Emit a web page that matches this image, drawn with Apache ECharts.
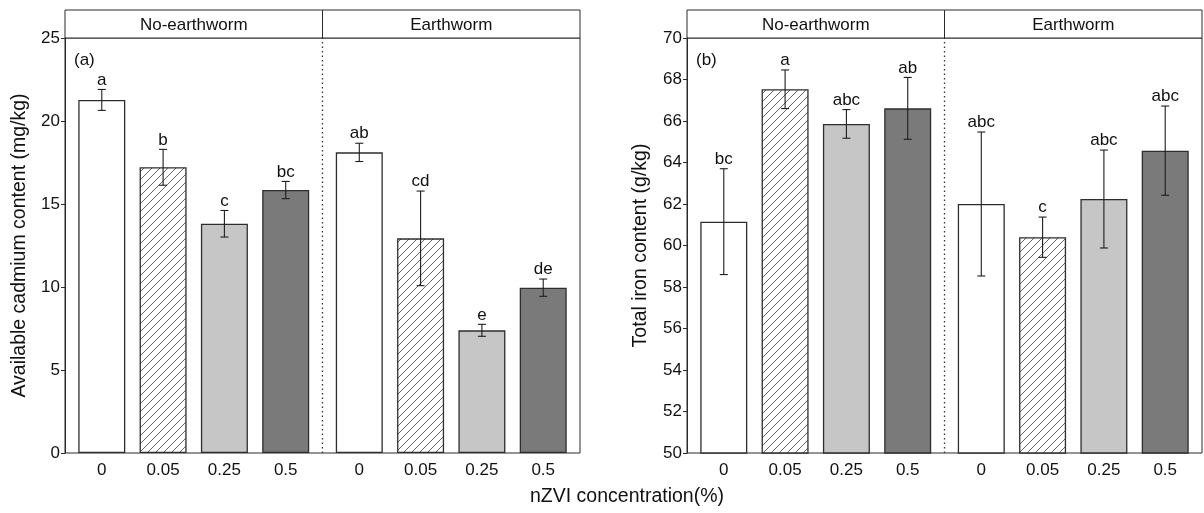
<!DOCTYPE html>
<html>
<head>
<meta charset="utf-8">
<script src="https://cdn.jsdelivr.net/npm/echarts@6/dist/echarts.min.js"></script>
<style>
  html, body { margin: 0; padding: 0; background: #fff; }
  #chart { width: 1204px; height: 513px; }
</style>
</head>
<body>
<div id="chart"></div>
<script>
// categories (two groups of four nZVI doses) and where they sit on the x scale
const concentrations = ["0", "0.05", "0.25", "0.5", "0", "0.05", "0.25", "0.5"];
const groups = ["No-earthworm", "Earthworm"];
const xPositions = [1, 2, 3, 4, 5.2, 6.2, 7.2, 8.2];
const groupDivider = 4.6;

// panel (a) available cadmium, mg/kg
const cadmiumMean = [21.27, 17.21, 13.81, 15.84, 18.11, 12.93, 7.39, 9.96];
const cadmiumErr = [0.63, 1.08, 0.8, 0.52, 0.55, 2.85, 0.36, 0.52];
const cadmiumLetters = ["a", "b", "c", "bc", "ab", "cd", "e", "de"];

// panel (b) total iron, g/kg
const ironMean = [61.15, 67.53, 65.86, 66.61, 62.0, 60.4, 62.24, 64.57];
const ironErr = [2.55, 0.93, 0.69, 1.49, 3.47, 0.97, 2.36, 2.15];
const ironLetters = ["bc", "a", "abc", "ab", "abc", "c", "abc", "abc"];

const FONT = "Arial, 'Liberation Sans', sans-serif";
const INK = "#1e1e1e";

const makeHatch = () => {
  const size = 8;
  const canvas = document.createElement("canvas");
  canvas.width = size;
  canvas.height = size;
  const ctx = canvas.getContext("2d");
  ctx.fillStyle = "#fff";
  ctx.fillRect(0, 0, size, size);
  ctx.strokeStyle = "#555";
  ctx.lineWidth = 0.9;
  ctx.beginPath();
  ctx.moveTo(-1, size + 1);
  ctx.lineTo(size + 1, -1);
  ctx.stroke();
  return { image: canvas, repeat: "repeat" };
};

const fills = ["#ffffff", makeHatch(), "#c6c6c6", "#7a7a7a"];

const panels = [
  { left: 65, right: 580, mean: cadmiumMean, err: cadmiumErr, letters: cadmiumLetters,
    min: 0, max: 25, interval: 5, name: "Available cadmium content (mg/kg)", tag: "(a)", gap: 35 },
  { left: 687, right: 1202, mean: ironMean, err: ironErr, letters: ironLetters,
    min: 50, max: 70, interval: 2, name: "Total iron content (g/kg)", tag: "(b)", gap: 36 }
];

const TOP = 38;
const STRIP_TOP = 10;
const BOTTOM = 453;

const labelFor = (v) => {
  const idx = xPositions.findIndex((p) => Math.abs(p - v) < 1e-6);
  return idx >= 0 ? concentrations[idx] : "";
};

const errorRenderer = (letters) => (params, api) => {
  const x = api.value(0);
  const lo = api.coord([x, api.value(1)]);
  const hi = api.coord([x, api.value(2)]);
  const cap = 4;
  const stroke = { stroke: INK, lineWidth: 1.1 };
  return {
    type: "group",
    children: [
      { type: "line", shape: { x1: lo[0], y1: lo[1], x2: hi[0], y2: hi[1] }, style: stroke },
      { type: "line", shape: { x1: hi[0] - cap, y1: hi[1], x2: hi[0] + cap, y2: hi[1] }, style: stroke },
      { type: "line", shape: { x1: lo[0] - cap, y1: lo[1], x2: lo[0] + cap, y2: lo[1] }, style: stroke },
      {
        type: "text",
        x: hi[0],
        y: hi[1] - 1,
        style: {
          text: letters[params.dataIndex],
          align: "center",
          verticalAlign: "bottom",
          fontSize: 17,
          fontFamily: FONT,
          fill: "#111"
        }
      }
    ]
  };
};

const grid = panels.map((p) => ({
  left: p.left,
  width: p.right - p.left,
  top: TOP,
  height: BOTTOM - TOP,
  show: true,
  borderColor: "#2a2a2a",
  borderWidth: 1,
  backgroundColor: "transparent"
}));

const xAxis = panels.map((p, i) => ({
  gridIndex: i,
  type: "value",
  min: 0.4,
  max: 8.8,
  axisLine: { show: false },
  axisTick: { show: false },
  splitLine: { show: false },
  axisLabel: {
    customValues: xPositions,
    formatter: labelFor,
    margin: 9,
    fontSize: 17,
    fontFamily: FONT,
    color: "#111"
  }
}));

const yAxis = panels.map((p, i) => ({
  gridIndex: i,
  type: "value",
  min: p.min,
  max: p.max,
  interval: p.interval,
  name: p.name,
  nameLocation: "middle",
  nameGap: p.gap,
  nameTextStyle: { fontSize: 19.5, fontFamily: FONT, color: "#111" },
  axisLine: { show: true, lineStyle: { color: "#2a2a2a" } },
  axisTick: { show: true, inside: false, length: 4, lineStyle: { color: "#2a2a2a" } },
  splitLine: { show: false },
  axisLabel: { margin: 5, fontSize: 17, fontFamily: FONT, color: "#111" }
}));

const series = [];
panels.forEach((p, i) => {
  series.push({
    type: "bar",
    xAxisIndex: i,
    yAxisIndex: i,
    barWidth: 47,
    data: p.mean.map((m, k) => ({
      value: [xPositions[k], m],
      itemStyle: { color: fills[k % 4], borderColor: "#2e2e2e", borderWidth: 1.3 }
    })),
    markLine: {
      silent: true,
      symbol: "none",
      label: { show: false },
      lineStyle: { color: "#333", type: [1.5, 3], width: 1.3 },
      data: [{ xAxis: groupDivider }]
    }
  });
  series.push({
    type: "custom",
    xAxisIndex: i,
    yAxisIndex: i,
    clip: false,
    z: 5,
    renderItem: errorRenderer(p.letters),
    data: p.mean.map((m, k) => [xPositions[k], m - p.err[k], m + p.err[k]])
  });
});

const graphic = [];
panels.forEach((p) => {
  const mid = p.left + ((groupDivider - 0.4) / 8.4) * (p.right - p.left);
  graphic.push({
    type: "rect",
    shape: { x: p.left, y: STRIP_TOP, width: p.right - p.left, height: TOP - STRIP_TOP },
    style: { fill: "#fff", stroke: "#2a2a2a", lineWidth: 1 }
  });
  graphic.push({
    type: "line",
    shape: { x1: mid, y1: STRIP_TOP, x2: mid, y2: TOP },
    style: { stroke: "#2a2a2a", lineWidth: 1 }
  });
  [[p.left, mid], [mid, p.right]].forEach(([a, b], g) => {
    graphic.push({
      type: "text",
      x: (a + b) / 2,
      y: (STRIP_TOP + TOP) / 2 + 1,
      style: { text: groups[g], align: "center", verticalAlign: "middle", fontSize: 17, fontFamily: FONT, fill: "#111" }
    });
  });
  graphic.push({
    type: "text",
    x: p.left + 9,
    y: 60,
    style: { text: p.tag, align: "left", verticalAlign: "middle", fontSize: 17, fontFamily: FONT, fill: "#111" }
  });
});
graphic.push({
  type: "text",
  x: 627,
  y: 497,
  style: { text: "nZVI concentration(%)", align: "center", verticalAlign: "middle", fontSize: 19.5, fontFamily: FONT, fill: "#111" }
});

const chart = echarts.init(document.getElementById("chart"), null, { renderer: "canvas" });
chart.setOption({
  animation: false,
  backgroundColor: "#fff",
  grid,
  xAxis,
  yAxis,
  series,
  graphic
});
</script>
</body>
</html>
